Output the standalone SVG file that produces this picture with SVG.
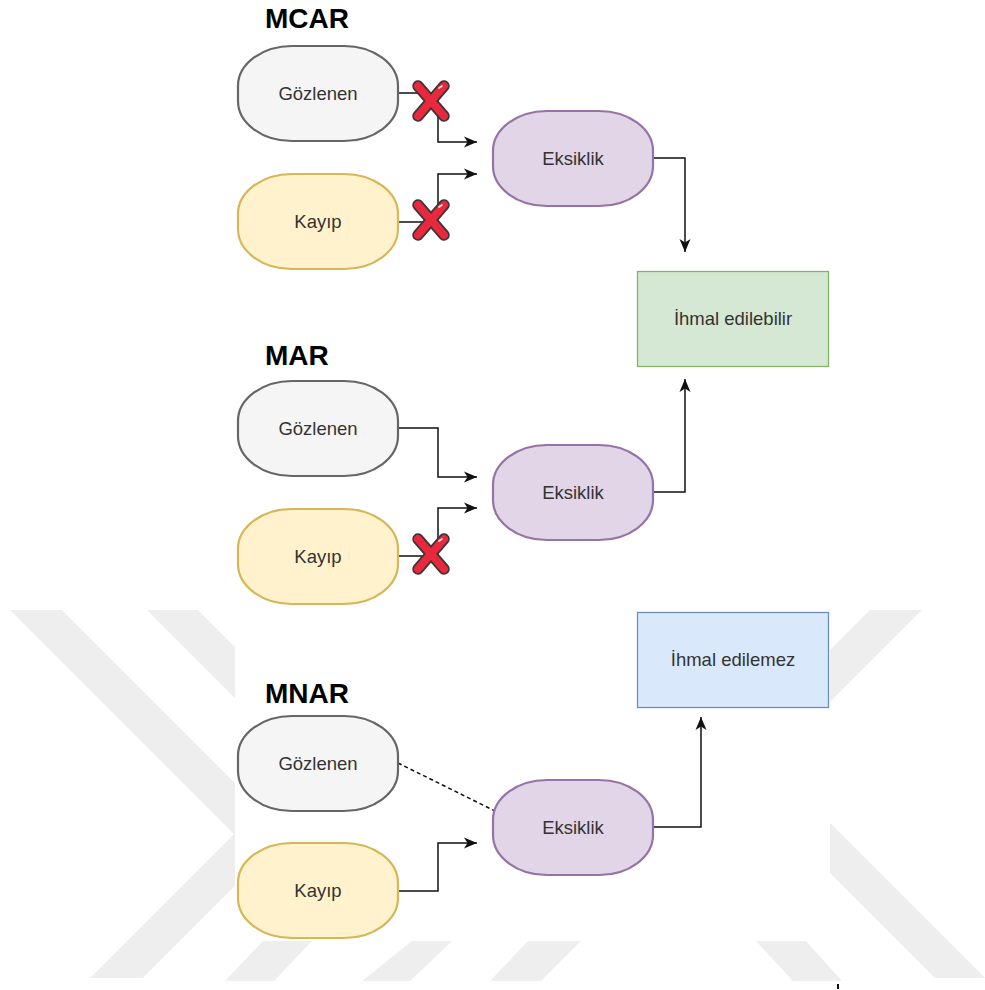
<svg xmlns="http://www.w3.org/2000/svg" width="985" height="990" viewBox="0 0 985 990">
  <style>
    .wm { fill: #eeeeee; }
    .title { font-family: "Liberation Sans", Arial, sans-serif; font-size: 28px; font-weight: bold; fill: #000000; }
    .lbl { font-family: "Liberation Sans", Arial, sans-serif; font-size: 18.5px; fill: #333333; text-anchor: middle; }
    .obs { fill: #f5f5f5; stroke: #666666; stroke-width: 2.2; }
    .miss { fill: #fff2cc; stroke: #d6b656; stroke-width: 2.2; }
    .mech { fill: #e1d5e7; stroke: #9673a6; stroke-width: 2.2; }
    .ign { fill: #d5e8d4; stroke: #82b366; stroke-width: 1.3; }
    .nign { fill: #dae8fc; stroke: #6c8ebf; stroke-width: 1.3; }
    .edge { fill: none; stroke: #111111; stroke-width: 1.5; }
    .arrow { marker-end: url(#arrowhead); }
    .dashed { stroke-dasharray: 4 3; }
  </style>
  <defs>
    <marker id="arrowhead" markerUnits="userSpaceOnUse" markerWidth="14" markerHeight="12" refX="13" refY="6" orient="auto">
      <path d="M0,0.5 L13,6 L0,11.5 L3.5,6 z" fill="#111111"/>
    </marker>
    <!-- red cross drawn over a blocked link -->
    <g id="cross">
      <path d="M-13,-15 L13,15 M13,-15 L-13,15" fill="none" stroke="#3d3535" stroke-width="11.5" stroke-linecap="round"/>
      <path d="M-13,-15 L13,15 M13,-15 L-13,15" fill="none" stroke="#e8283c" stroke-width="8" stroke-linecap="round"/>
      <path d="M8,-13 L11,-15" fill="none" stroke="#ffffff" stroke-width="1.6" stroke-linecap="round" opacity="0.85"/>
    </g>
  </defs>

  <rect x="0" y="0" width="985" height="990" fill="#ffffff"/>

  <!-- background watermark bands -->
  <g id="watermark">
    <polygon class="wm" points="10,610 62,610 302,850 250,850"/>
    <polygon class="wm" points="147,610 198,610 440,852 389,852"/>
    <polygon class="wm" points="90,978 143,978 300,821 247,821"/>
    <polygon class="wm" points="225,981 274,981 312,941 263,941"/>
    <polygon class="wm" points="362,981 410,981 452,941 412,941"/>
    <polygon class="wm" points="490,981 541,981 581,941 528,941"/>
    <polygon class="wm" points="756,941 806,941 842,981 793,981"/>
    <polygon class="wm" points="870,610 922,610 800,732 748,732"/>
    <polygon class="wm" points="790,783 985,978 935,978 790,833"/>
  </g>

  <!-- diagram canvas -->
  <rect x="235" y="0" width="595" height="941" fill="#ffffff"/>

  <!-- section titles -->
  <text class="title" x="265" y="28">MCAR</text>
  <text class="title" x="265" y="365">MAR</text>
  <text class="title" x="265" y="703">MNAR</text>

  <!-- connectors -->
  <g id="connectors">
    <path class="edge arrow" d="M398,93 H438 V142 H477"/>
    <path class="edge arrow" d="M398,222 H438 V174 H477"/>
    <path class="edge arrow" d="M653,158 H685 V252"/>
    <path class="edge arrow" d="M398,428 H438 V477 H477"/>
    <path class="edge arrow" d="M398,556 H438 V508 H477"/>
    <path class="edge arrow" d="M653,492 H685 V379"/>
    <path class="edge dashed" d="M398,763 L495,811"/>
    <path class="edge arrow" d="M398,891 H438 V843 H477"/>
    <path class="edge arrow" d="M653,827 H701 V717"/>
  </g>

  <!-- blocked links -->
  <use href="#cross" x="431" y="101"/>
  <use href="#cross" x="431" y="220"/>
  <use href="#cross" x="431" y="554"/>

  <!-- MCAR -->
  <g id="mcar-observed">
    <rect class="obs" x="238" y="46" width="160" height="95" rx="54" ry="40"/>
    <text class="lbl" x="318" y="100">Gözlenen</text>
  </g>
  <g id="mcar-missing">
    <rect class="miss" x="238" y="174" width="160" height="95" rx="54" ry="40"/>
    <text class="lbl" x="318" y="228">Kayıp</text>
  </g>
  <g id="mcar-missingness">
    <rect class="mech" x="493" y="111" width="160" height="95" rx="54" ry="40"/>
    <text class="lbl" x="573" y="165">Eksiklik</text>
  </g>

  <g id="ignorable">
    <rect class="ign" x="637.5" y="271.5" width="191" height="95"/>
    <text class="lbl" x="733" y="325">İhmal edilebilir</text>
  </g>

  <!-- MAR -->
  <g id="mar-observed">
    <rect class="obs" x="238" y="381" width="160" height="95" rx="54" ry="40"/>
    <text class="lbl" x="318" y="435">Gözlenen</text>
  </g>
  <g id="mar-missing">
    <rect class="miss" x="238" y="509" width="160" height="95" rx="54" ry="40"/>
    <text class="lbl" x="318" y="563">Kayıp</text>
  </g>
  <g id="mar-missingness">
    <rect class="mech" x="493" y="445" width="160" height="95" rx="54" ry="40"/>
    <text class="lbl" x="573" y="499">Eksiklik</text>
  </g>

  <g id="nonignorable">
    <rect class="nign" x="637.5" y="612.5" width="191" height="95"/>
    <text class="lbl" x="733" y="666">İhmal edilemez</text>
  </g>

  <!-- MNAR -->
  <g id="mnar-observed">
    <rect class="obs" x="238" y="716" width="160" height="95" rx="54" ry="40"/>
    <text class="lbl" x="318" y="770">Gözlenen</text>
  </g>
  <g id="mnar-missing">
    <rect class="miss" x="238" y="843" width="160" height="95" rx="54" ry="40"/>
    <text class="lbl" x="318" y="897">Kayıp</text>
  </g>
  <g id="mnar-missingness">
    <rect class="mech" x="493" y="780" width="160" height="95" rx="54" ry="40"/>
    <text class="lbl" x="573" y="834">Eksiklik</text>
  </g>

  <rect x="837" y="984" width="2" height="5" fill="#111111"/>
</svg>
